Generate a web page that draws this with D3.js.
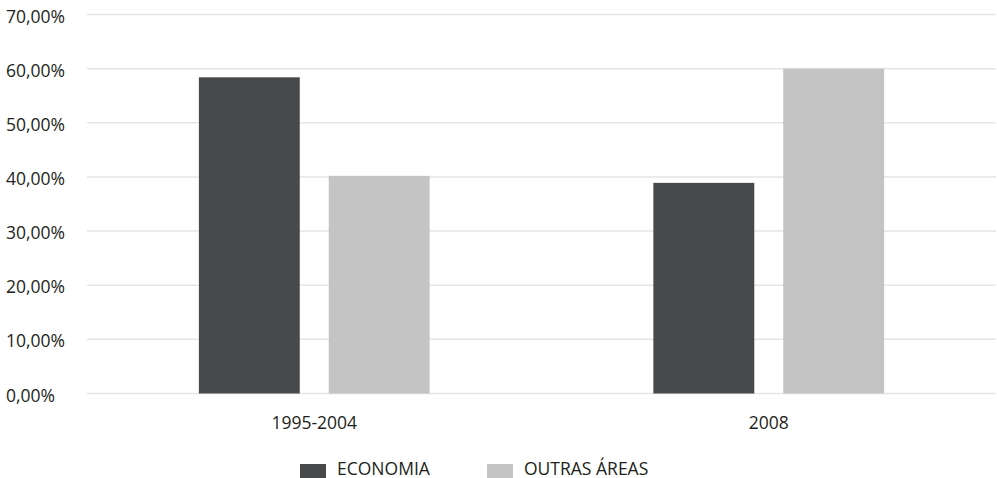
<!DOCTYPE html>
<html>
<head>
<meta charset="utf-8">
<script src="https://cdn.jsdelivr.net/npm/d3@7"></script>
<style>
  html, body { margin: 0; padding: 0; background: #fff; }
  svg { display: block; }
  text { font-family: "Open Sans", "Noto Sans", sans-serif; fill: #231f20; }
</style>
</head>
<body>
<svg id="chart" width="997" height="478"></svg>
<script>
// Share of theses by field, per period
const categories = ["1995-2004", "2008"];
const series = ["ECONOMIA", "OUTRAS ÁREAS"];
const economia = [0.584, 0.389];
const outrasAreas = [0.402, 0.600];
const yTicks = [0, 0.1, 0.2, 0.3, 0.4, 0.5, 0.6, 0.7];
const colors = ["#48494b", "#c3c4c3"];

const valuesBySeries = [economia, outrasAreas];
const rows = categories.map((c, i) => ({
  category: c,
  values: series.map((s, j) => ({ series: s, value: valuesBySeries[j][i], color: colors[j] }))
}));

const svg = d3.select("#chart");

const x0 = d3.scaleBand().domain(categories).range([87, 996]).padding(0);
const x1 = d3.scaleBand().domain(series).range([0, x0.bandwidth()])
  .paddingInner(0.223).paddingOuter(0.8615);
const y = d3.scaleLinear().domain([0, 0.7]).range([393.5, 14.5]);

const fmt = v => (v * 100).toFixed(2).replace(".", ",") + "%";

// horizontal grid
svg.append("g")
  .selectAll("line")
  .data(yTicks)
  .join("line")
  .attr("x1", 87).attr("x2", 996)
  .attr("y1", d => y(d)).attr("y2", d => y(d))
  .attr("stroke", "#e5e5e5")
  .attr("stroke-width", 1.5);

// y tick labels
svg.append("g")
  .selectAll("text")
  .data(yTicks)
  .join("text")
  .attr("x", 6)
  .attr("y", d => y(d) + 2)
  .attr("dy", "0.35em")
  .style("font-size", "17.5px")
  .text(fmt);

// bars
const groups = svg.append("g")
  .selectAll("g")
  .data(rows)
  .join("g")
  .attr("transform", d => `translate(${x0(d.category)},0)`);

groups.selectAll("rect")
  .data(d => d.values)
  .join("rect")
  .attr("x", d => x1(d.series))
  .attr("width", x1.bandwidth())
  .attr("y", d => y(d.value))
  .attr("height", d => y(0) - y(d.value))
  .attr("fill", d => d.color);

// category labels
svg.append("g")
  .selectAll("text")
  .data(categories)
  .join("text")
  .attr("x", d => x0(d) + x0.bandwidth() / 2)
  .attr("y", 423)
  .attr("dy", "0.35em")
  .attr("text-anchor", "middle")
  .style("font-size", "17.5px")
  .text(d => d);

// legend
const legendX = [300, 487];
const legend = svg.append("g")
  .selectAll("g")
  .data(series)
  .join("g")
  .attr("transform", (d, i) => `translate(${legendX[i]},464)`);

legend.append("rect")
  .attr("width", 26).attr("height", 26)
  .attr("fill", (d, i) => colors[i]);

legend.append("text")
  .attr("x", 37)
  .attr("y", 5)
  .attr("dy", "0.35em")
  .style("font-size", "17.5px")
  .text(d => d);
</script>
</body>
</html>
